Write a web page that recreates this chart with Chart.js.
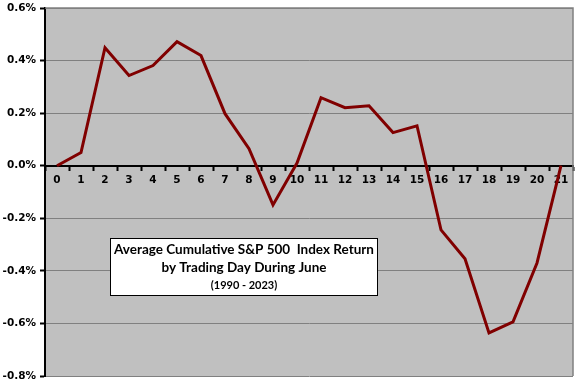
<!DOCTYPE html>
<html>
<head>
<meta charset="utf-8">
<script src="https://cdn.jsdelivr.net/npm/chart.js@4.4.0/dist/chart.umd.min.js"></script>
<style>
  html, body { margin: 0; padding: 0; background: #fff; }
  #wrap { width: 576px; height: 384px; }
</style>
</head>
<body>
<div id="wrap"><canvas id="chart" width="576" height="384"></canvas></div>
<script>
// trading day of June
var days = ["0","1","2","3","4","5","6","7","8","9","10","11","12","13","14","15","16","17","18","19","20","21"];
// average cumulative return, %
var avg_return = [0.0, 0.05, 0.449, 0.343, 0.381, 0.472, 0.419, 0.198, 0.065, -0.149, 0.01, 0.259, 0.221, 0.228, 0.126, 0.152, -0.244, -0.354, -0.636, -0.594, -0.37, 0.0];
var y_ticks = [0.6, 0.4, 0.2, 0.0, -0.2, -0.4, -0.6, -0.8];

var title_lines = ["Average Cumulative S&P 500  Index Return", "by Trading Day During June", "(1990 - 2023)"];

const plotBg = {
    id: 'plotBg',
    beforeDraw(chart) {
        const { ctx, chartArea: a } = chart;
        ctx.save();
        ctx.fillStyle = '#c0c0c0';
        ctx.fillRect(a.left, a.top, a.right - a.left, a.bottom - a.top);
        ctx.restore();
    },
    afterDatasetsDraw(chart) {
        // gray frame on top and right like the excel plot area
        const { ctx, chartArea: a } = chart;
        ctx.save();
        ctx.strokeStyle = '#808080';
        ctx.lineWidth = 1.5;
        ctx.beginPath();
        ctx.moveTo(a.left, a.top);
        ctx.lineTo(a.right, a.top);
        ctx.lineTo(a.right, a.bottom);
        ctx.stroke();
        ctx.restore();
    }
};

// the white title box inside the plot
const titleBox = {
    id: 'titleBox',
    afterDraw(chart) {
        const ctx = chart.ctx;
        ctx.save();
        ctx.fillStyle = '#fff';
        ctx.fillRect(110.5, 238.5, 267, 57);
        ctx.strokeStyle = '#000';
        ctx.lineWidth = 1;
        ctx.strokeRect(110.5, 238.5, 267, 57);
        ctx.fillStyle = '#000';
        ctx.textAlign = 'center';
        ctx.textBaseline = 'middle';
        ctx.font = 'bold 13.5px Lato';
        ctx.fillText(title_lines[0], 244, 250);
        ctx.fillText(title_lines[1], 244, 268);
        ctx.font = 'bold 11px Lato';
        ctx.fillText(title_lines[2], 244, 285);
        ctx.restore();
    }
};

new Chart(document.getElementById('chart'), {
    type: 'line',
    data: {
        labels: days,
        datasets: [{
            data: avg_return,
            borderColor: '#800000',
            borderWidth: 3,
            pointRadius: 0,
            tension: 0,
            fill: false
        }]
    },
    options: {
        responsive: false,
        animation: false,
        layout: { padding: { top: 8, right: 3, bottom: 8, left: 0 } },
        plugins: {
            legend: { display: false },
            tooltip: { enabled: false }
        },
        scales: {
            x: {
                type: 'category',
                position: { y: 0 },
                offset: true,
                grid: {
                    offset: true,
                    drawOnChartArea: false,
                    drawTicks: true,
                    tickLength: 4,
                    tickColor: '#000',
                    tickWidth: 2
                },
                border: { color: '#000', width: 2 },
                ticks: {
                    color: '#000',
                    padding: 4,
                    maxRotation: 0,
                    autoSkip: false,
                    font: { family: 'DejaVu Sans', weight: 'bold', size: 10.5 }
                }
            },
            y: {
                min: -0.8,
                max: 0.6,
                afterFit(scale) {
                    scale.width = 45;
                    scale.paddingTop = 0;
                    scale.paddingBottom = 0;
                },
                afterBuildTicks(scale) {
                    scale.ticks = y_ticks.map(v => ({ value: v }));
                },
                grid: {
                    color: '#808080',
                    lineWidth: 1,
                    drawTicks: true,
                    tickLength: 5,
                    tickColor: '#000',
                    tickWidth: 2
                },
                border: { color: '#000', width: 2 },
                ticks: {
                    color: '#000',
                    padding: 4,
                    font: { family: 'DejaVu Sans', weight: 'bold', size: 10.5 },
                    callback: v => v.toFixed(1) + '%'
                }
            }
        }
    },
    plugins: [plotBg, titleBox]
});
</script>
</body>
</html>
